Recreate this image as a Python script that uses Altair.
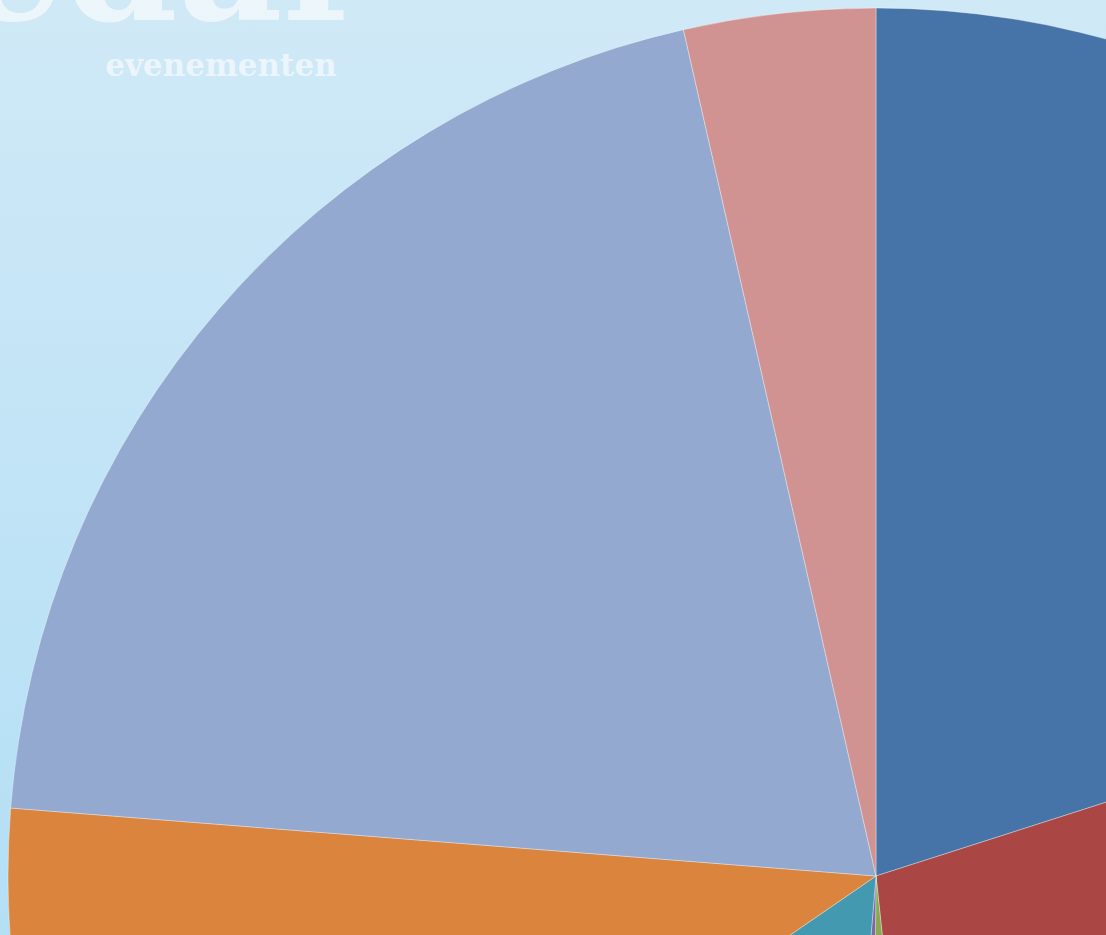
import altair as alt
import pandas as pd

# Pie slices (clockwise from 12 o'clock), share in percent
categories = ["Reeks 1", "Reeks 2", "Reeks 3", "Reeks 4", "Reeks 5", "Reeks 6", "Reeks 7", "Reeks 8"]
values = [20.06, 28.25, 1.83, 1.19, 14.08, 10.83, 20.19, 3.56]
colors = ["#4674a8", "#aa4745", "#8aa752", "#80699b", "#4399b0", "#db843d", "#94a9cf", "#d19392"]

title_text = "Cedar"
subtitle_text = "evenementen"

W, H = 1106, 935

df = pd.DataFrame({"cat": categories, "value": values, "idx": list(range(len(values)))})

bg = alt.Chart(pd.DataFrame({"a": [0]})).mark_rect(
    fill=alt.Gradient(
        gradient="linear",
        stops=[alt.GradientStop(color="#d0e9f7", offset=0),
               alt.GradientStop(color="#b3dff5", offset=1)],
        x1=0, x2=0, y1=0, y2=1,
    )
).encode(x=alt.value(-10), x2=alt.value(W + 10), y=alt.value(-10), y2=alt.value(H + 10))

pie = alt.Chart(df).mark_arc(radius=868, stroke="#ffffff", strokeWidth=1, strokeOpacity=0.35).encode(
    theta=alt.Theta("value:Q", stack=True),
    color=alt.Color("cat:N", scale=alt.Scale(domain=categories, range=colors), legend=None),
    order=alt.Order("idx:Q"),
    x=alt.value(876),
    y=alt.value(876),
)

title = alt.Chart(pd.DataFrame({"t": [title_text]})).mark_text(
    font="DejaVu Serif", fontWeight="bold", fontSize=162, align="right", baseline="alphabetic",
    color="#ffffff", opacity=0.6,
).encode(text="t:N", x=alt.value(368), y=alt.value(20))

subtitle = alt.Chart(pd.DataFrame({"t": [subtitle_text]})).mark_text(
    font="DejaVu Serif", fontWeight="bold", fontSize=31, align="center", baseline="alphabetic",
    color="#ffffff", opacity=0.6,
).encode(text="t:N", x=alt.value(221), y=alt.value(76))

chart = alt.layer(bg, pie, title, subtitle).properties(
    width=W, height=H, padding=0, autosize=alt.AutoSizeParams(type="none")
).configure_view(stroke=None)

chart.save("out.html", embed_options={
    "renderer": "svg", "actions": False,
    "defaultStyle": "html,body{margin:0;padding:0;overflow:hidden;} #vis{line-height:0;}",
})
